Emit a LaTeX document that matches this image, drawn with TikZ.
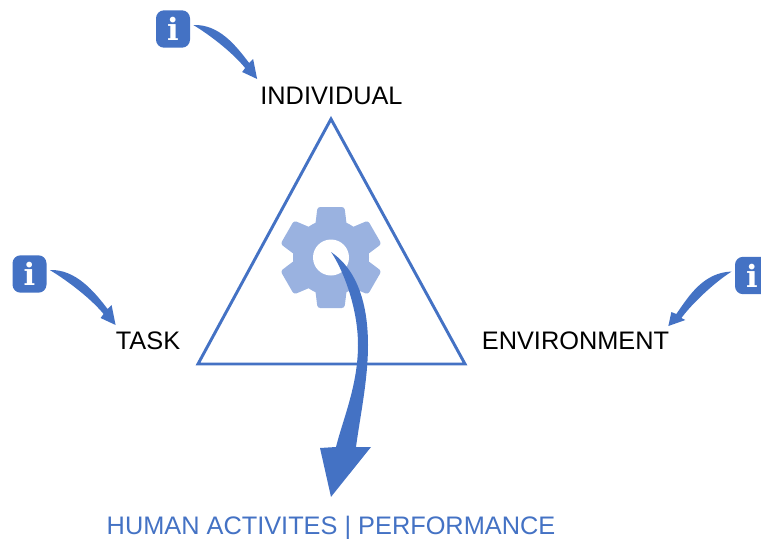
\documentclass[tikz,border=0pt]{standalone}
\usepackage{fontspec}
\setmainfont{Liberation Sans}
\newfontfamily\iconfont{DejaVu Serif}
\usetikzlibrary{calc}
\definecolor{arrowblue}{HTML}{4472C4}
\definecolor{gearblue}{HTML}{9AB2E0}
\tikzset{
    factor/.style={black, inner sep=0pt, font=\fontsize{19}{22}\selectfont},
    info/.style={fill=arrowblue, text=white, rounded corners=6, minimum width=25.5pt, minimum height=28pt, inner sep=0pt, font=\iconfont\bfseries\fontsize{23}{24}\selectfont},
}
\begin{document}
\begin{tikzpicture}[x=0.75pt, y=-0.75pt]
    \path[use as bounding box, clip] (0,0) rectangle (761,539);
    \draw[arrowblue, line width=2.2pt, line join=miter] (331,119) -- (465,364) -- (198,364) -- cycle;

    \node[factor] (individual) at (331.5,96) {INDIVIDUAL};
    \node[factor] (task) at (148,341) {TASK};
    \node[factor] (environment) at (575.5,341) {ENVIRONMENT};
    \node[factor, text=arrowblue] (activities) at (331,528.5) {HUMAN ACTIVITES | PERFORMANCE};

    \node[info] (infoindividual) at (173,29) {i};
    \node[info] (infotask) at (29.5,274) {i};
    \node[info] (infoenvironment) at (752,275.5) {i};

    % gear
    \foreach \a in {0,60,...,300} {
        \fill[gearblue, rounded corners=2, shift={(331,257.5)}, rotate=\a] (-16,-30) -- (-13.5,-50.5) -- (13.5,-50.5) -- (16,-30) -- cycle;
    }
    \fill[gearblue] (331,257.5) circle (38*0.75pt);
    \fill[white] (331,257.5) circle (18*0.75pt);

    % arrows
    \coordinate (tailindividual) at ($(infoindividual.east)+(3,-4)$);
    \coordinate (tipindividual) at ($(individual.west)+(-3,-17)$);
    \fill[arrowblue] (tailindividual) .. controls +(26,-1) and +(-13,-17) .. ($(tipindividual)+(-8,-16)$) -- ($(tipindividual)+(-4,-20)$) -- (tipindividual) -- ($(tipindividual)+(-15,-7)$) -- ($(tipindividual)+(-12,-11)$) .. controls +(-14,-17) and +(15,9) .. (tailindividual) -- cycle;

    \coordinate (tailtask) at ($(infotask.east)+(3,-4)$);
    \coordinate (tiptask) at ($(task.west)+(0,-16)$);
    \fill[arrowblue] (tailtask) .. controls +(26,-1) and +(-13,-17) .. ($(tiptask)+(-8,-16)$) -- ($(tiptask)+(-4,-20)$) -- (tiptask) -- ($(tiptask)+(-15,-7)$) -- ($(tiptask)+(-12,-11)$) .. controls +(-14,-17) and +(15,9) .. (tailtask) -- cycle;

    \coordinate (tailenvironment) at ($(infoenvironment.west)+(-3,-4)$);
    \coordinate (tipenvironment) at ($(environment.east)+(-1,-15)$);
    \fill[arrowblue] (tailenvironment) .. controls +(-28,1) and +(13,-19) .. ($(tipenvironment)+(8,-12)$) -- ($(tipenvironment)+(3,-14)$) -- (tipenvironment) -- ($(tipenvironment)+(17,-6)$) -- ($(tipenvironment)+(13,-8)$) .. controls +(12,-16) and +(-16,10) .. (tailenvironment) -- cycle;

    % big arrow
    \coordinate (tailgear) at (331,252);
    \coordinate (tipactivities) at ($(activities.north)+(0,-19.5)$);
    \fill[arrowblue] (tailgear) .. controls +(24,16) and +(0,-45) .. (368,345) .. controls +(0,35) and +(4,-30) .. (356,447) -- (371,447) -- (tipactivities) -- (320,448) -- (336,447) .. controls +(7,-28) and +(0,40) .. (358,345) .. controls +(0,-40) and +(10,14) .. (tailgear) -- cycle;
\end{tikzpicture}
\end{document}
